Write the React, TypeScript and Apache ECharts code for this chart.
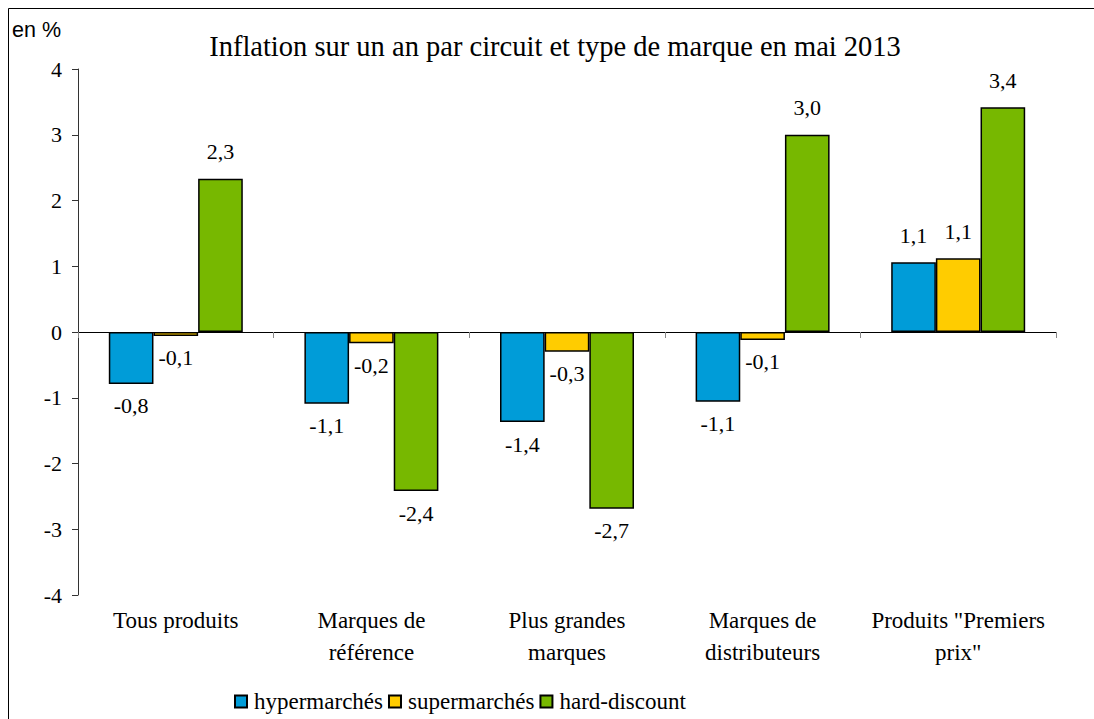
import React, { useEffect, useRef } from "react";
import * as echarts from "echarts";

const categories = [
  "Tous produits",
  "Marques de\nréférence",
  "Plus grandes\nmarques",
  "Marques de\ndistributeurs",
  'Produits "Premiers\nprix"',
];
const hypermarches = [-0.79, -1.09, -1.37, -1.06, 1.06];
const supermarches = [-0.06, -0.17, -0.3, -0.12, 1.12];
const hardDiscount = [2.33, -2.42, -2.69, 3.0, 3.42];
const seriesNames = ["hypermarchés", "supermarchés", "hard-discount"];
const colors = ["#009CD8", "#FFCC00", "#77B800"];
const yTicks = { min: -4, max: 4, interval: 1 };

const SERIF = '"Liberation Serif", "Times New Roman", serif';
const SANS = '"Liberation Sans", Arial, sans-serif';

function makeData(values: number[]) {
  return values.map((v) => ({
    value: v,
    label: {
      position: v >= 0 ? "top" : "bottom",
      distance: v >= 0 ? 16 : 11,
    },
  }));
}

export default function App() {
  const ref = useRef<HTMLDivElement>(null);
  useEffect(() => {
    if (!ref.current) return;
    const chart = echarts.init(ref.current, undefined, { renderer: "svg" });
    const allSeries = [hypermarches, supermarches, hardDiscount].map((vals, i) => ({
      name: seriesNames[i],
      type: "bar",
      xAxisIndex: 0,
      data: makeData(vals),
      barGap: "0%",
      barCategoryGap: "31.5%",
      itemStyle: { color: colors[i], borderColor: "#000", borderWidth: 1.5 },
      label: {
        show: true,
        fontFamily: SERIF,
        fontSize: 22,
        color: "#000",
        formatter: (p: any) => Number(p.value).toFixed(1).replace(".", ","),
      },
    }));
    chart.setOption({
      animation: false,
      backgroundColor: "#fff",
      grid: { left: 70, right: 38, top: 61, bottom: 124 },
      legend: {
        left: 221,
        top: 677,
        itemWidth: 12,
        itemHeight: 12,
        itemGap: 5,
        icon: "rect",
        textStyle: { fontFamily: SERIF, fontSize: 23, color: "#000", padding: [0, 0, 0, 2] },
        data: seriesNames,
      },
      xAxis: [
        {
          type: "category",
          data: categories,
          position: "bottom",
          axisLine: { show: true, onZero: true, lineStyle: { color: "#000", width: 1 } },
          axisTick: { show: true, length: 6, lineStyle: { color: "#888" } },
          axisLabel: { show: false },
        },
        {
          type: "category",
          data: categories,
          position: "bottom",
          axisLine: { show: false, onZero: false },
          axisTick: { show: false },
          axisLabel: {
            show: true,
            interval: 0,
            margin: 9,
            fontFamily: SERIF,
            fontSize: 23,
            lineHeight: 32,
            color: "#000",
          },
        },
      ],
      yAxis: {
        type: "value",
        min: yTicks.min,
        max: yTicks.max,
        interval: yTicks.interval,
        axisLine: { show: true, lineStyle: { color: "#333" } },
        axisTick: { show: true, length: 6, lineStyle: { color: "#333" } },
        splitLine: { show: false },
        axisLabel: {
          margin: 16,
          fontFamily: SERIF,
          fontSize: 22,
          color: "#000",
          formatter: (v: number) => String(v).replace(".", ","),
        },
      },
      graphic: [
        {
          type: "line",
          shape: { x1: 0.5, y1: 0.5, x2: 1086, y2: 0.5 },
          style: { stroke: "#000", lineWidth: 1 },
          silent: true,
        },
        {
          type: "line",
          shape: { x1: 0.5, y1: 0.5, x2: 0.5, y2: 711 },
          style: { stroke: "#000", lineWidth: 1 },
          silent: true,
        },
        {
          type: "text",
          x: 547,
          y: 38,
          style: {
            text: "Inflation sur un an par circuit et type de marque en mai 2013",
            fontFamily: SERIF,
            fontSize: 28.5,
            fill: "#000",
            textAlign: "center",
            textVerticalAlign: "middle",
          },
        },
        {
          type: "text",
          x: 4,
          y: 22,
          style: {
            text: "en %",
            fontFamily: SANS,
            fontSize: 21.5,
            fill: "#000",
            textAlign: "left",
            textVerticalAlign: "middle",
          },
        },
      ],
      series: allSeries,
    });
    return () => chart.dispose();
  }, []);
  return (
    <div
      ref={ref}
      style={{ position: "absolute", left: 8, top: 8, width: 1086, height: 711, overflow: "hidden" }}
    />
  );
}
